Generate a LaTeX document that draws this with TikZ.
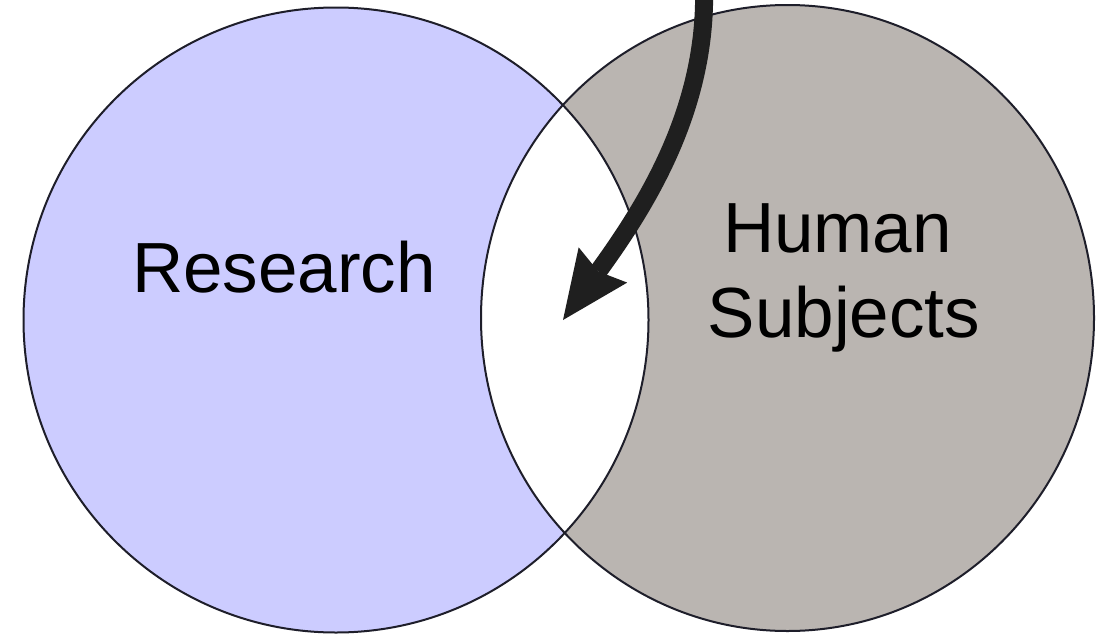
\documentclass[tikz,border=0pt]{standalone}
\usepackage{fontspec}
\setmainfont{Liberation Sans}
\usetikzlibrary{arrows.meta}
\definecolor{researchfill}{RGB}{204,204,255}
\definecolor{humanfill}{RGB}{186,181,177}
\definecolor{rim}{RGB}{30,30,42}
\begin{document}
\begin{tikzpicture}[x=0.5pt,y=-0.5pt,
  setlabel/.style={font=\fontsize{35.5}{42.6}\selectfont, inner sep=0pt, anchor=base, text=black},
  outline/.style={draw=rim, line width=1pt},
  pointer/.style={line width=9pt, draw=black!88,
    -{Stealth[length=34pt, width=30pt, inset=4pt, line width=0pt]}}]
\useasboundingbox[fill=white] (0,0) rectangle (1097,637);

% centres of the two sets
\coordinate (rc) at (336,320);
\coordinate (hc) at (787.5,318);

% set fills
\fill[researchfill] (rc) circle[radius=312.5];
\fill[humanfill] (hc) ellipse[x radius=306.5, y radius=313];

% the overlap is left white
\begin{scope}
  \clip (rc) circle[radius=312.5];
  \fill[white] (hc) ellipse[x radius=306.5, y radius=313];
\end{scope}

% set outlines
\draw[outline] (rc) circle[radius=312.5];
\draw[outline] (hc) ellipse[x radius=306.5, y radius=313];

% labels
\node[setlabel] (research) at (284,292) {Research};
\node[setlabel] (human) at (837.5,252) {Human};
\node[setlabel] (subjects) at (844,337) {Subjects};

% curved arrow pointing into the overlap
\coordinate (arrowfrom) at (704,-12);
\coordinate (arrowto) at (563,320);
\draw[pointer] (arrowfrom) .. controls (707,110) and (645,207) .. (arrowto);
\end{tikzpicture}
\end{document}
